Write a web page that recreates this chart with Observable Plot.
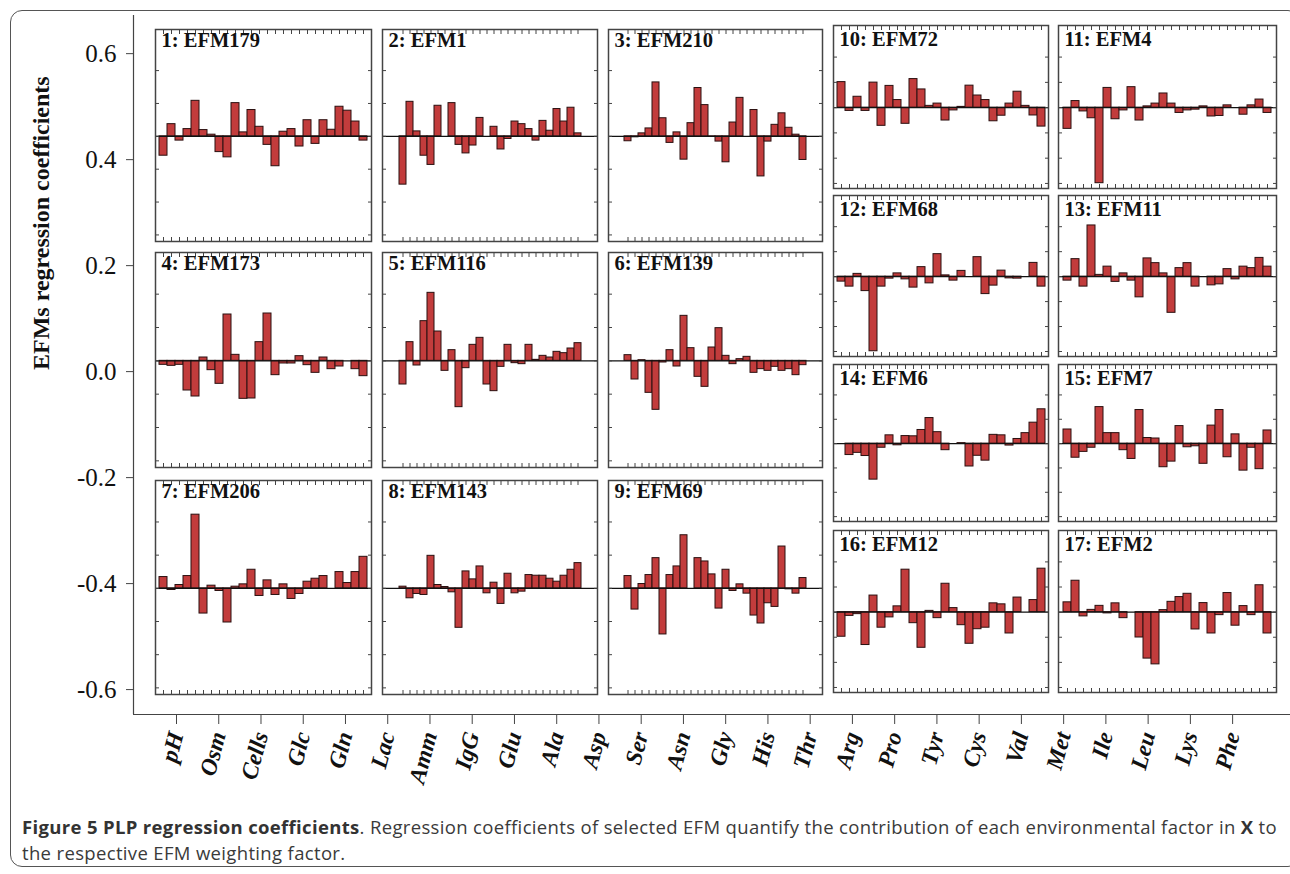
<!DOCTYPE html>
<html><head><meta charset="utf-8">
<script src="https://cdn.jsdelivr.net/npm/d3@7"></script>
<script src="https://cdn.jsdelivr.net/npm/@observablehq/plot@0.6"></script>
<style>
body{margin:0;background:#fff}
#fig{position:relative;width:1290px;height:874px;overflow:hidden;background:#fff}
#box{position:absolute;left:10px;top:10px;width:1290px;height:857px;border:1px solid #555;border-radius:12px;box-sizing:border-box}
.panel{position:absolute}
#outer{position:absolute;left:0;top:0}
#outer g[aria-label="x-axis tick label"] text{font-weight:bold;font-style:italic}
#caption{position:absolute;left:22px;top:814px;font-family:"Open Sans",sans-serif;font-size:18.5px;line-height:26px;color:#3a3a3a;white-space:nowrap}
#caption b{color:#333}
</style></head><body>
<div id="fig">
  <div id="box"></div>
  <div id="outer"></div>
  <div id="caption"><span id="cap1"><b>Figure 5 PLP regression coefficients</b>. Regression coefficients of selected EFM quantify the contribution of each environmental factor in <b>X</b> to</span><br><span id="cap2">the respective EFM weighting factor.</span></div>
</div>
<script>
// ---- data ----
const factors = ["pH","Osm","Cells","Glc","Gln","Lac","Amm","IgG","Glu","Ala","Asp","Ser","Asn","Gly","His","Thr","Arg","Pro","Tyr","Cys","Val","Met","Ile","Leu","Lys","Phe"];
const yTicks = [-0.6,-0.4,-0.2,0,0.2,0.4,0.6];
const panelTicks = [-0.3,-0.2,-0.1,0,0.1,0.2];
const titles = ["1: EFM179","2: EFM1","3: EFM210","4: EFM173","5: EFM116","6: EFM139","7: EFM206","8: EFM143","9: EFM69",
  "10: EFM72","11: EFM4","12: EFM68","13: EFM11","14: EFM6","15: EFM7","16: EFM12","17: EFM2"];
const efm179 = [-0.059,0.037,-0.013,0.022,0.108,0.019,0.005,-0.048,-0.064,0.101,0.012,0.080,0.029,-0.026,-0.091,0.014,0.022,-0.031,0.049,-0.023,0.049,0.020,0.090,0.078,0.045,-0.013];
const efm1   = [-0.147,0.105,0.015,-0.059,-0.087,0.093,0.000,0.101,-0.026,-0.052,-0.028,0.056,0.000,0.029,-0.040,-0.008,0.045,0.037,0.022,-0.013,0.047,0.017,0.083,0.045,0.087,0.009];
const efm210 = [-0.015,-0.003,0.009,0.024,0.164,0.055,-0.020,0.012,-0.071,0.040,0.147,0.095,-0.001,-0.016,-0.079,0.042,0.117,0.000,0.080,-0.122,-0.016,0.035,0.070,0.026,0.005,-0.072];
const efm173 = [-0.012,-0.015,-0.012,-0.089,-0.107,0.010,-0.028,-0.069,0.139,0.018,-0.114,-0.113,0.056,0.142,-0.043,-0.008,-0.008,0.014,-0.013,-0.036,0.010,-0.025,-0.017,0.000,-0.025,-0.046];
const efm116 = [-0.071,0.056,-0.014,0.119,0.204,0.088,-0.030,0.032,-0.139,-0.022,0.048,0.069,-0.071,-0.091,-0.018,0.048,-0.007,-0.010,0.048,0.003,0.015,0.010,0.027,0.023,0.037,0.053];
const efm139 = [0.017,-0.056,0.002,-0.096,-0.147,-0.005,0.032,-0.017,0.135,0.038,-0.048,-0.078,0.040,0.098,0.015,-0.010,0.005,0.012,-0.036,-0.025,-0.030,-0.018,-0.030,-0.025,-0.043,-0.013];
const efm206 = [0.034,-0.005,0.010,0.037,0.222,-0.076,0.008,-0.008,-0.103,0.005,0.012,0.056,-0.023,0.024,-0.020,0.012,-0.032,-0.017,0.020,0.029,0.037,0.000,0.049,0.016,0.049,0.095];
const efm143 = [0.005,-0.030,-0.017,-0.020,0.098,0.010,0.004,-0.012,-0.119,0.051,0.027,0.066,-0.015,0.017,-0.047,0.044,-0.015,-0.010,0.040,0.038,0.038,0.029,0.020,0.038,0.056,0.076];
const efm69  = [0.037,-0.064,0.013,0.040,0.091,-0.139,0.040,0.066,0.160,0.000,0.091,0.081,0.042,-0.061,0.056,-0.008,0.012,-0.016,-0.082,-0.106,-0.045,-0.056,0.126,-0.003,-0.016,0.031];
const efm72  = [0.101,-0.013,0.043,-0.013,0.099,-0.072,0.086,0.030,-0.064,0.113,0.072,0.007,0.016,-0.051,-0.011,0.003,0.087,0.048,0.030,-0.054,-0.032,0.016,0.063,0.007,-0.031,-0.075];
const efm4   = [-0.084,0.026,-0.015,-0.042,-0.299,0.078,-0.046,-0.011,0.081,-0.051,0.005,0.016,0.056,0.016,-0.021,-0.011,-0.008,0.005,-0.035,-0.033,0.009,0.000,-0.028,0.009,0.032,-0.021];
const efm68  = [-0.020,-0.040,0.011,-0.058,-0.299,-0.040,-0.008,0.013,-0.011,-0.044,0.038,-0.027,0.090,0.005,-0.016,0.023,0.000,0.078,-0.070,-0.036,0.024,-0.007,-0.008,0.000,0.055,-0.040];
const efm11  = [-0.016,0.070,-0.040,0.205,0.007,0.040,-0.021,0.013,-0.016,-0.083,0.073,0.054,0.013,-0.145,0.034,0.054,-0.040,0.000,-0.035,-0.031,0.030,-0.011,0.040,0.034,0.075,0.040];
const efm6   = [0.000,-0.047,-0.038,-0.051,-0.148,-0.017,0.034,-0.007,0.031,0.030,0.056,0.105,0.047,-0.027,0.000,0.002,-0.094,-0.050,-0.070,0.036,0.034,-0.008,0.019,0.043,0.086,0.141];
const efm7   = [0.058,-0.058,-0.034,-0.017,0.150,0.043,0.043,-0.027,-0.063,0.138,0.023,0.021,-0.097,-0.074,0.072,-0.015,-0.011,-0.083,0.074,0.138,-0.056,0.038,-0.111,-0.017,-0.105,0.054];
const efm12  = [-0.098,-0.015,-0.008,-0.131,0.066,-0.062,-0.021,0.023,0.169,-0.044,-0.142,0.005,-0.024,0.113,0.016,-0.052,-0.126,-0.068,-0.062,0.035,0.031,-0.085,0.058,0.000,0.048,0.173];
const efm2   = [0.039,0.125,-0.017,0.009,0.025,-0.005,0.035,-0.024,0.000,-0.101,-0.185,-0.208,0.008,0.041,0.060,0.073,-0.069,0.036,-0.085,-0.012,0.076,-0.054,0.024,-0.012,0.107,-0.085];
const series = [efm179,efm1,efm210,efm173,efm116,efm139,efm206,efm143,efm69,efm72,efm4,efm68,efm11,efm6,efm7,efm12,efm2];

// ---- layout (panel boxes in page pixels) ----
const leftCols = [155, 382, 608], leftW = [216, 215, 214];
const leftRows = [29, 252, 480], leftH = [212, 215, 214];
const rightCols = [833, 1058], rightW = [215, 218];
const rightRows = [25, 195, 364, 530], rightH = [163, 161, 157, 162];
const boxes = [];
for (let r = 0; r < 3; r++) for (let c = 0; c < 3; c++) boxes.push({left: leftCols[c], top: leftRows[r], w: leftW[c], h: leftH[r], inset: 4, tdy: 3});
for (let r = 0; r < 4; r++) for (let c = 0; c < 2; c++) boxes.push({left: rightCols[c], top: rightRows[r], w: rightW[c], h: rightH[r], inset: 3, tdy: 6});

const serif = "'Liberation Serif','Times New Roman','DejaVu Serif',serif";
const barFill = "#c23c3c";

// ---- outer axes ----
const outer = Plot.plot({
  width: 1290, height: 800,
  marginLeft: 133, marginRight: 0, marginTop: 15, marginBottom: 86,
  style: {fontFamily: serif, background: "transparent", color: "#111"},
  x: {domain: [-1.018, 26.37]},
  y: {domain: [-0.647, 0.672]},
  marks: [
    Plot.ruleY([-0.647], {stroke: "#444", strokeWidth: 1.2}),
    Plot.ruleX([-1.018], {stroke: "#444", strokeWidth: 1.2}),
    Plot.axisY({ticks: yTicks, tickFormat: d => d.toFixed(1), tickSize: 7, tickPadding: 10, fontSize: 25, label: null, stroke: "#444"}),
    Plot.axisX({ticks: d3.range(factors.length), tickFormat: i => factors[i], tickSize: 10, tickPadding: 8, tickRotate: -75, fontSize: 23.5, fontWeight: "bold", fontStyle: "italic", label: null, stroke: "#444"}),
    Plot.text(["EFMs regression coefficients"], {frameAnchor: "left", rotate: -90, dx: -92, dy: 5, fontSize: 24, fontWeight: "bold", fill: "#111"})
  ]
});
document.getElementById("outer").appendChild(outer);

// ---- panels ----
const fig = document.getElementById("fig");
series.forEach((vals, k) => {
  const b = boxes[k];
  const data = factors.map((f, i) => ({factor: f, v: vals[i]}));
  const p = Plot.plot({
    width: b.w, height: b.h, margin: 0,
    style: {fontFamily: serif, background: "#fff", overflow: "visible"},
    x: {type: "band", domain: factors, padding: 0, range: [b.inset, b.w - b.inset]},
    y: {domain: [-0.32, 0.325]},
    marks: [
      Plot.barY(data, {x: "factor", y: "v", fill: barFill, stroke: "#2a1010", strokeWidth: 1, inset: 0}),
      Plot.ruleY([0], {stroke: "#111", strokeWidth: 1.2}),
      Plot.axisY({anchor: "left", ticks: panelTicks, tickSize: -4, tickFormat: () => "", label: null, stroke: "#444"}),
      Plot.axisY({anchor: "right", ticks: panelTicks, tickSize: -4, tickFormat: () => "", label: null, stroke: "#444"}),
      Plot.axisX({anchor: "bottom", tickSize: -4, tickFormat: () => "", label: null, stroke: "#444"}),
      Plot.axisX({anchor: "top", tickSize: -4, tickFormat: () => "", label: null, stroke: "#444"}),
      Plot.frame({stroke: "#444", strokeWidth: 1.5}),
      Plot.text([titles[k]], {frameAnchor: "top-left", dx: 6, dy: b.tdy, fontSize: 20.5, fontWeight: "bold", fill: "#111", lineAnchor: "top"})
    ]
  });
  const d = document.createElement("div");
  d.className = "panel";
  d.style.left = b.left + "px";
  d.style.top = b.top + "px";
  d.appendChild(p);
  fig.appendChild(d);
});

// fit caption first line to the reference width
const cap1 = document.getElementById("cap1");
const cap = document.getElementById("caption");
const target = 1255;
const w0 = cap1.getBoundingClientRect().width;
const n = cap1.textContent.length;
cap.style.letterSpacing = ((target - w0) / n).toFixed(3) + "px";
</script>
</body></html>
